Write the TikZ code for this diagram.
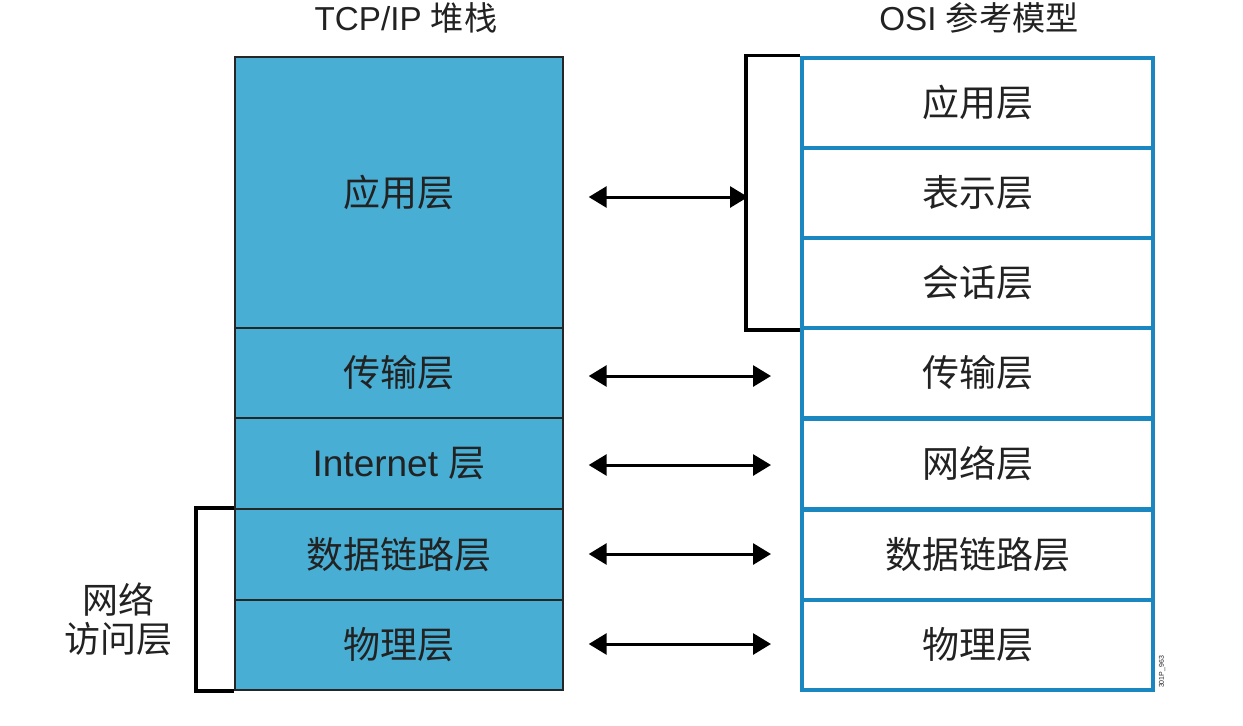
\documentclass[tikz,border=0pt]{standalone}
\usepackage{fontspec}
\setmainfont{Liberation Sans}
\newfontfamily\cjk{Noto Sans CJK SC}
\usetikzlibrary{arrows.meta}
\definecolor{stackfill}{HTML}{48AED4}
\definecolor{osiblue}{HTML}{1B87C0}
\definecolor{txt}{HTML}{222222}
\begin{document}
\begin{tikzpicture}[x=0.5pt,y=-0.5pt,
  lbox/.style={draw=black!85,fill=stackfill,line width=0.7pt,minimum width=164pt,inner sep=0pt,text=txt,font=\cjk\fontsize{18.5}{22}\selectfont},
  rbox/.style={draw=osiblue,fill=white,line width=2pt,minimum width=175.5pt,minimum height=45pt,inner sep=0pt,text=txt,font=\cjk\fontsize{18.5}{22}\selectfont},
  title/.style={text=txt,font=\fontsize{16.6}{19}\selectfont,inner sep=0pt},
  brk/.style={draw=black,line width=1.6pt},
  biarrow/.style={draw=black,line width=1.5pt,{Triangle[length=9pt,width=10.5pt]}-{Triangle[length=9pt,width=10.5pt]}}
]
\useasboundingbox (0,0) rectangle (1243,725);
% TCP/IP stack
\node[lbox,minimum height=135.5pt] (l1) at (399,192.5) {应用层};
\node[lbox,minimum height=45pt] (l2) at (399,373) {传输层};
\node[lbox,minimum height=45.5pt] (l3) at (399,463.5) {\fontspec{Liberation Sans}Internet {\cjk 层}};
\node[lbox,minimum height=45.5pt] (l4) at (399,554.5) {数据链路层};
\node[lbox,minimum height=45pt] (l5) at (399,645) {物理层};
% OSI
\node[rbox] (r1) at (977.5,102.5) {应用层};
\node[rbox] (r2) at (977.5,193) {表示层};
\node[rbox] (r3) at (977.5,283) {会话层};
\node[rbox] (r4) at (977.5,373) {传输层};
\node[rbox] (r5) at (977.5,463.5) {网络层};
\node[rbox] (r6) at (977.5,554.5) {数据链路层};
\node[rbox] (r7) at (977.5,645) {物理层};
% titles
\node[title] (t1) at (406,18) {TCP/IP {\cjk 堆栈}};
\node[title] (t2) at (979,18) {OSI {\cjk 参考模型}};
% brackets
\draw[brk] (r1.north west) -- ++(-54,0) |- (r3.south west);
\draw[brk,line width=2pt] (l4.north west) -- ++(-38,0) |- (l5.south west);
\node[text=txt,font=\cjk\fontsize{18}{18}\selectfont,align=center,inner sep=0pt] (acc) at (118,619) {网络\\[1.5pt]访问层};
% arrows
\coordinate (br) at (748,197);
\draw[biarrow,shorten <=12.5pt] (l1.east |- br) -- (br);
\draw[biarrow,shorten <=12.5pt,shorten >=14.5pt] (l2.east |- 0,376) -- (r4.west |- 0,376);
\draw[biarrow,shorten <=12.5pt,shorten >=14.5pt] (l3.east |- 0,465) -- (r5.west |- 0,465);
\draw[biarrow,shorten <=12.5pt,shorten >=14.5pt] (l4.east |- 0,554) -- (r6.west |- 0,554);
\draw[biarrow,shorten <=12.5pt,shorten >=14.5pt] (l5.east |- 0,644) -- (r7.west |- 0,644);
% code
\node[rotate=90,font=\fontsize{3.5}{4}\selectfont,text=txt,inner sep=0pt] (code) at (1162,672) {301P\_963};
\end{tikzpicture}
\end{document}
